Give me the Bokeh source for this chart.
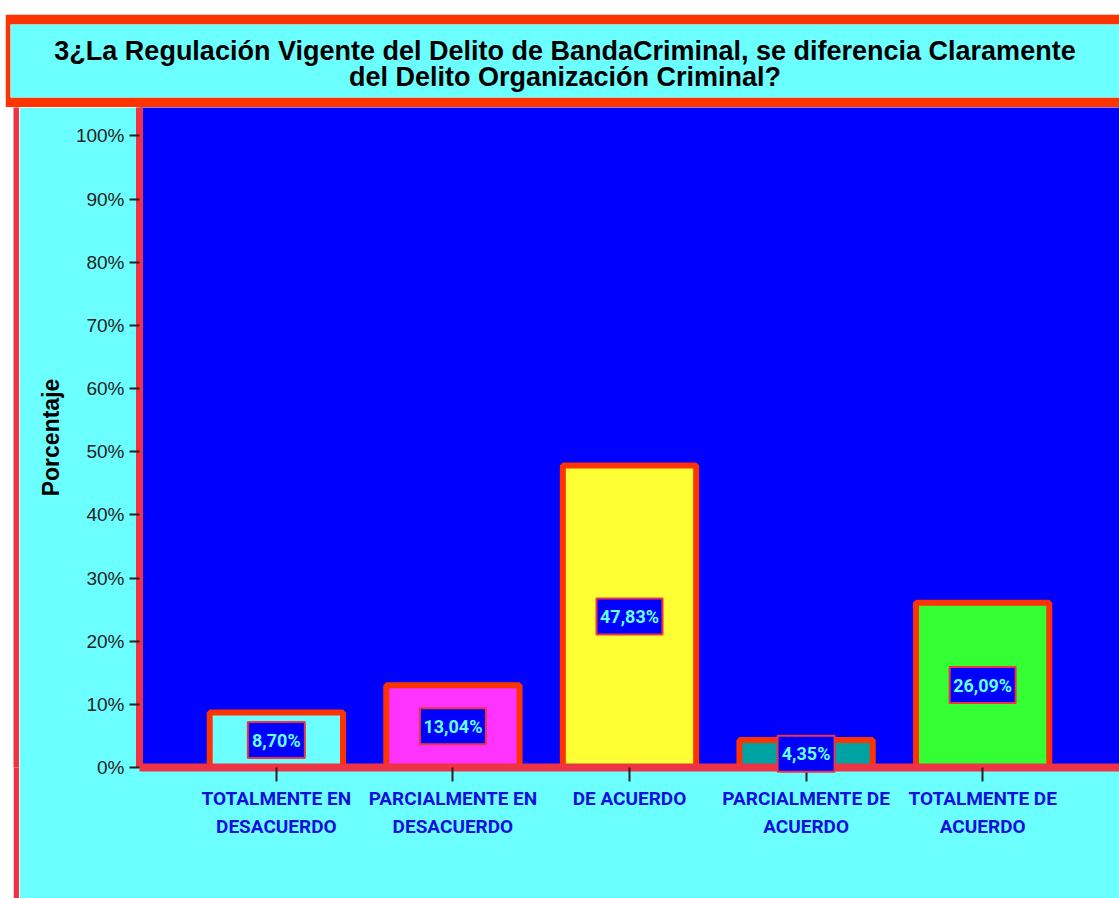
from bokeh.plotting import figure
from bokeh.models import (ColumnDataSource, FactorRange, Range1d, FixedTicker,
                          PrintfTickFormatter, Label, Spacer)
from bokeh.layouts import column, row
from bokeh.core.properties import value
from bokeh.embed import file_html
from bokeh.resources import INLINE

# ---- data ----
title_text = ("3¿La Regulación Vigente del Delito de BandaCriminal, se diferencia Claramente\n"
              "del Delito Organización Criminal?")
categories = ["TOTALMENTE EN\nDESACUERDO", "PARCIALMENTE EN\nDESACUERDO", "DE ACUERDO",
              "PARCIALMENTE DE\nACUERDO", "TOTALMENTE DE\nACUERDO"]
percentages = [8.70, 13.04, 47.83, 4.35, 26.09]
bar_colors = ["#6CFFFF", "#FF33FF", "#FFFF33", "#00A3A3", "#33FF33"]
y_ticks = [0, 10, 20, 30, 40, 50, 60, 70, 80, 90, 100]
y_label = "Porcentaje"

COND = "Roboto, 'Liberation Sans', sans-serif"
SANS = "'Liberation Sans', Arial, sans-serif"
CYAN = "#6CFFFF"
RED = "#FF3300"
RED2 = "#EE3344"

labels = [f"{v:.2f}".replace(".", ",") + "%" for v in percentages]
mids = [v / 2 for v in percentages]
box_w = [30 + 9 * sum(c.isdigit() for c in s) for s in labels]

src = ColumnDataSource(dict(cat=categories, pct=percentages, color=bar_colors,
                            label=labels, mid=mids, bw=box_w))

# ---- title panel ----
t = figure(width=1114, height=93, x_range=Range1d(0, 1), y_range=Range1d(0, 1),
           output_backend="svg", toolbar_location=None,
           x_axis_location=None, y_axis_location=None,
           min_border_left=5, min_border_right=0, min_border_top=10, min_border_bottom=10,
           background_fill_color=CYAN, border_fill_color=RED, outline_line_color=None)
t.grid.visible = False
t.add_layout(Label(x=0.5, y=0.46, text=title_text, text_align="center",
                   text_baseline="middle", text_font=SANS, text_font_size="27px",
                   text_font_style="bold", text_color="#000000", text_line_height=0.875))

# ---- left red strip ----
strip = figure(width=6, height=791, output_backend="svg", toolbar_location=None,
               x_axis_location=None, y_axis_location=None, min_border=0,
               background_fill_color=RED2, border_fill_color=RED2, outline_line_color=None)
strip.grid.visible = False

# ---- main chart ----
p = figure(width=1100, height=791,
           x_range=FactorRange(factors=categories, range_padding=0.275,
                               range_padding_units="absolute"),
           y_range=Range1d(0, 104.5),
           output_backend="svg", toolbar_location=None,
           min_border_left=120, min_border_right=0, min_border_top=0, min_border_bottom=131,
           background_fill_color="#0000FF", border_fill_color=CYAN, outline_line_color=None)
p.xgrid.visible = False
p.ygrid.visible = False

p.vbar(x="cat", top="pct", width=0.755, fill_color="color", line_color=RED,
       line_width=6, source=src)
p.rect(x="cat", y="mid", width="bw", height=36, width_units="screen", height_units="screen",
       fill_color="#0000FF", line_color=RED2, line_width=2, source=src, level="annotation")
p.text(x="cat", y="mid", text="label", text_align="center", text_baseline="middle",
       text_color="#66FFFF", text_font=value(COND), text_font_size="18px",
       text_font_style="bold", source=src, level="annotation")

ya = p.yaxis[0]
ya.ticker = FixedTicker(ticks=y_ticks)
ya.formatter = PrintfTickFormatter(format="%d%%")
ya.major_label_text_font = SANS
ya.major_label_text_font_size = "19px"
ya.major_label_text_color = "#222222"
ya.major_tick_out = 10
ya.major_tick_in = 0
ya.major_tick_line_width = 2
ya.major_tick_line_color = "#222222"
ya.minor_tick_line_color = None
ya.major_label_standoff = 5
ya.axis_line_color = RED2
ya.axis_line_width = 7
ya.axis_label = y_label
ya.axis_label_text_font = SANS
ya.axis_label_text_font_size = "23px"
ya.axis_label_text_font_style = "bold"
ya.axis_label_text_color = "#000000"
ya.axis_label_standoff = 9

xa = p.xaxis[0]
xa.axis_line_color = RED2
xa.axis_line_width = 8
xa.major_tick_out = 14
xa.major_tick_in = 0
xa.major_tick_line_width = 2
xa.major_tick_line_color = "#222222"
xa.major_label_standoff = 5
xa.major_label_orientation = "horizontal"
xa.major_label_text_font = COND
xa.major_label_text_font_size = "19px"
xa.major_label_text_font_style = "bold"
xa.major_label_text_color = "#1010DD"
xa.major_label_text_line_height = 1.26

layout = column(Spacer(width=1119, height=14),
                row(Spacer(width=5, height=93), t),
                row(Spacer(width=13, height=791), strip, p))

open("out.html", "w").write(file_html(layout, INLINE))
